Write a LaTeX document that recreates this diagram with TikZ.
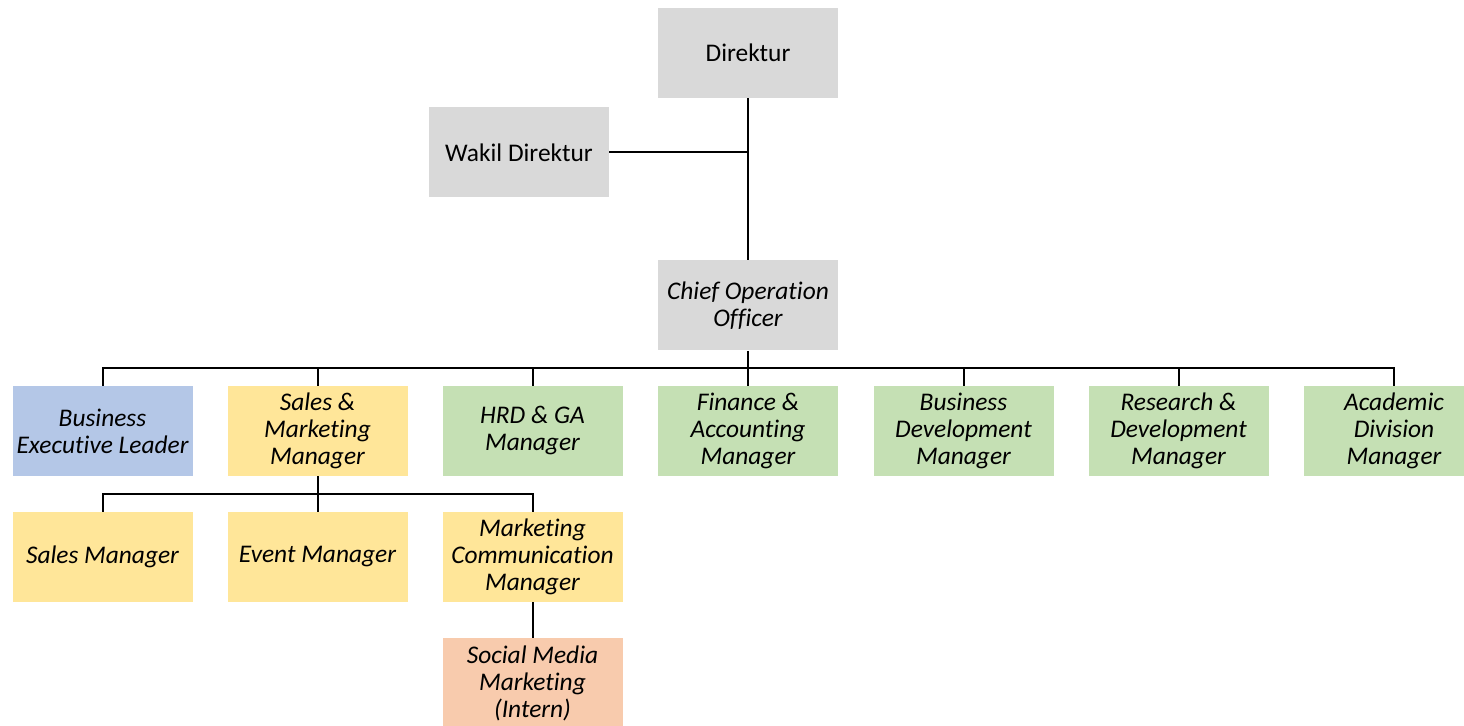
\documentclass[tikz,border=0pt]{standalone}
\usepackage{fontspec}
\setmainfont{Carlito}[Ligatures={NoCommon}]
\definecolor{cgray}{HTML}{D9D9D9}
\definecolor{cblue}{HTML}{B4C7E7}
\definecolor{cyellow}{HTML}{FFE699}
\definecolor{cgreen}{HTML}{C5E0B4}
\definecolor{corange}{HTML}{F8CBAD}
\tikzset{
  box/.style={minimum width=90pt, minimum height=45pt, inner sep=0pt, align=center,
    font=\fontsize{12.7}{13.5}\selectfont\itshape},
  gbox/.style={box, fill=cgray},
  bbox/.style={box, fill=cblue},
  ybox/.style={box, fill=cyellow},
  grbox/.style={box, fill=cgreen},
  obox/.style={box, fill=corange},
  conn/.style={line width=1pt, black}
}
\begin{document}
\begin{tikzpicture}[x=0.5pt, y=-0.5pt]
\useasboundingbox (0,0) rectangle (1464,726);
\clip (0,0) rectangle (1464,726);
\node[gbox, font=\fontsize{12.7}{13.5}\selectfont] (dir) at (748,53) {Direktur};
\node[gbox, font=\fontsize{12.7}{13.5}\selectfont] (wak) at (519,152.5) {Wakil Direktur};
\node[gbox] (coo) at (748,305.5) {Chief Operation\\Officer};
\node[bbox] (bel) at (102.5,431) {Business\\Executive Leader};
\node[ybox] (smm) at (317.5,431) {Sales \&\\Marketing\\Manager};
\node[grbox] (hrd) at (532.5,431) {HRD \& GA\\Manager};
\node[grbox] (fin) at (748,431) {Finance \&\\Accounting\\Manager};
\node[grbox] (bdm) at (963.5,431) {Business\\Development\\Manager};
\node[grbox] (rdm) at (1178.5,431) {Research \&\\Development\\Manager};
\node[grbox] (adm) at (1394,431) {Academic\\Division\\Manager};
\node[ybox] (sm) at (102.5,557) {Sales Manager};
\node[ybox] (em) at (317.5,557) {Event Manager};
\node[ybox] (mcm) at (532.5,557) {Marketing\\Communication\\Manager};
\node[obox] (soc) at (532.5,683) {Social Media\\Marketing\\(Intern)};
\coordinate (b1) at (748,368);
\coordinate (b2) at (317.5,494);
\draw[conn] (dir.south) -- (coo.north);
\draw[conn] (wak.east) -- (dir.south |- wak.east);
\draw[conn] (coo.south) -- (b1);
\foreach \n in {bel,smm,hrd,fin,bdm,rdm,adm}{
  \draw[conn] (b1) -| (\n.north);
}
\draw[conn] (smm.south) -- (b2);
\foreach \n in {sm,em,mcm}{
  \draw[conn] (b2) -| (\n.north);
}
\draw[conn] (mcm.south) -- (soc.north);
\end{tikzpicture}
\end{document}
